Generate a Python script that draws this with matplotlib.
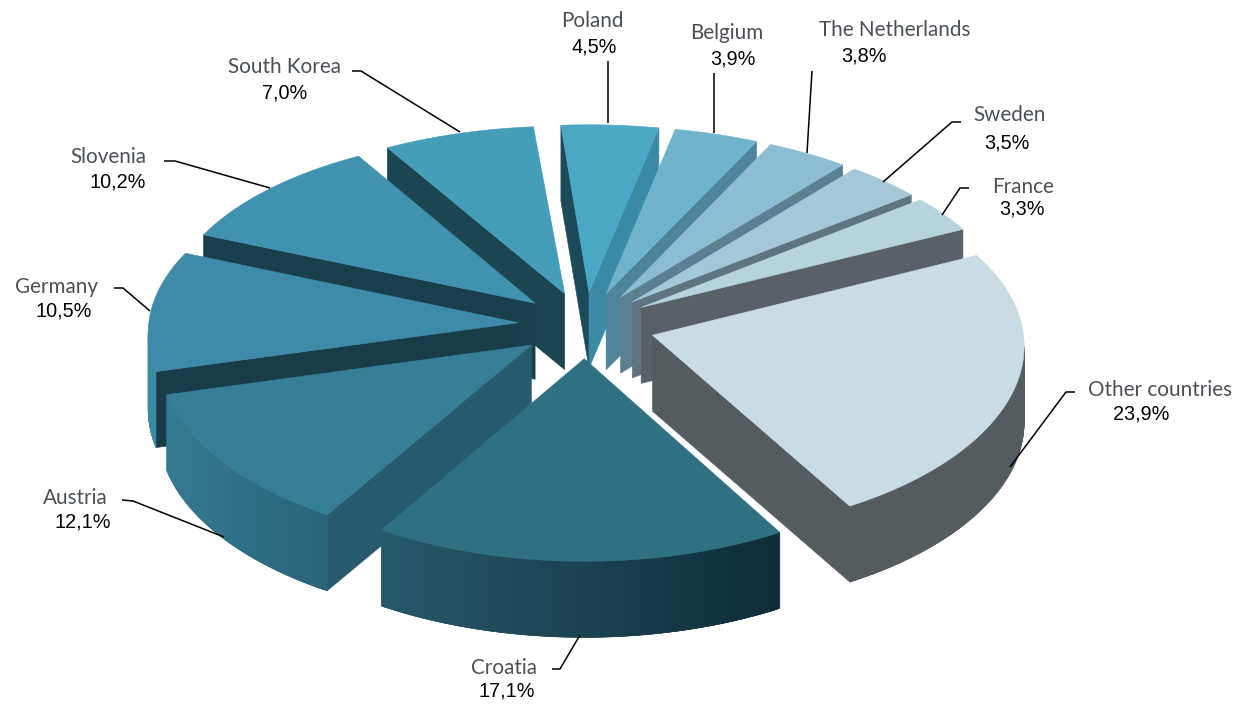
import matplotlib
matplotlib.use("Agg")
import matplotlib.pyplot as plt
from matplotlib.colors import to_rgb
from matplotlib.patches import Polygon
import numpy as np

countries = ["Poland", "Belgium", "The Netherlands", "Sweden", "France", "Other countries",
             "Croatia", "Austria", "Germany", "Slovenia", "South Korea"]
shares = [4.5, 3.9, 3.8, 3.5, 3.3, 23.9, 17.1, 12.1, 10.5, 10.2, 7.0]
explode = [0.18, 0.18, 0.18, 0.18, 0.18, 0.19, 0.18, 0.18, 0.18, 0.18, 0.18]

top_colors = ["#4aa8c5", "#6fb3cd", "#8dbdd2", "#a4c8d7", "#b6d3de", "#c9dce4",
              "#2f7083", "#367f97", "#3d8ba8", "#4093b0", "#449db9"]
start_wall_colors = ["#1c4a5a", "#4d869c", "#5a8092", "#5e7480", "#576167", "#555c5f",
                     "#27596a", "#265a6c", "#193c49", "#1a3f4c", "#1c4552"]
end_wall_colors = ["#3a8aa6", "#4d869c", "#5a8092", "#5e7480", "#576167", "#555c5f",
                   "#27596a", "#265a6c", "#193c49", "#1a3f4c", "#1c4552"]
# rim colours at the left and right end of each wall
rim_left = ["#3a8aa6", "#4d869c", "#5a8092", "#5e7480", "#576167", "#555c5f",
            "#27596a", "#357a92", "#3a8aa4", "#3d8fab", "#449db9"]
rim_right = ["#3a8aa6", "#4d869c", "#5a8092", "#5e7480", "#576167", "#555c5f",
             "#0f2c38", "#2a6378", "#3a8aa4", "#3d8fab", "#449db9"]

# label centres: name x, name y, value x, value y
label_pos = [(592, 21, 594, 47), (727, 33, 733, 59), (895, 30, 864, 56),
             (1010, 115, 1007, 143), (1023, 187, 1022, 209), (1160, 390, 1141, 414),
             (504, 668, 507, 691), (75, 498, 83, 522), (56, 287, 64, 311),
             (108, 157, 118, 182), (285, 67, 285, 93)]

leaders = [[(608, 61), (608, 123)], [(714, 73), (714, 133)], [(812, 71), (807, 153)],
           [(961, 122), (952, 122), (883, 182)], [(969, 188), (960, 188), (942, 215)],
           [(1075, 392), (1066, 392), (1010, 467)], [(552, 669), (560, 669), (580, 635)],
           [(122, 500), (133, 501), (224, 537)], [(114, 288), (123, 288), (150, 311)],
           [(164, 161), (175, 161), (270, 188)], [(352, 71), (361, 71), (460, 132)]]

start_angle = -4.6
cx, cy = 585, 325
rx, ry = 370, 185
persp_x = 0.05
persp_y = 0.07
wall = 76


def project(x, y, drop=0.0):
    return cx + rx * (1 + persp_x * y) * x, cy + ry * (1 + persp_y * y) * y + drop * wall


def shade(c1, c2, t):
    return tuple((1 - t) * a + t * b for a, b in zip(to_rgb(c1), to_rgb(c2)))


def shoelace(pts):
    p = np.array(pts)
    q = np.roll(p, -1, axis=0)
    return np.sum(p[:, 0] * q[:, 1] - q[:, 0] * p[:, 1]) / 2


def add_face(ax, pts, color):
    # faces turned away from the viewer are skipped
    if shoelace(pts) < 0:
        ax.add_patch(Polygon(pts, closed=True, facecolor=color, edgecolor=color, lw=0.4))


def draw_slice(ax, i, a0, a1):
    mid = np.radians((a0 + a1) / 2)
    ox, oy = explode[i] * np.sin(mid), -explode[i] * np.cos(mid)
    th = np.radians(np.linspace(a0, a1, max(int(a1 - a0) * 2, 12)))
    xs = ox + np.sin(th)
    ys = oy - np.cos(th)
    top = [project(x, y) for x, y in zip(xs, ys)]
    low = [project(x, y, 1) for x, y in zip(xs, ys)]
    apex = project(ox, oy)
    apex_low = project(ox, oy, 1)

    add_face(ax, [apex, top[0], low[0], apex_low], start_wall_colors[i])
    add_face(ax, [top[-1], apex, apex_low, low[-1]], end_wall_colors[i])

    x_left = min(p[0] for p in top)
    x_right = max(p[0] for p in top)
    for k in range(len(top) - 1):
        if shoelace([top[k], top[k + 1], low[k + 1], low[k]]) >= 0:
            continue
        t = ((top[k][0] + top[k + 1][0]) / 2 - x_left) / (x_right - x_left)
        color = shade(rim_left[i], rim_right[i], t)
        # each strip runs one step under the next so no seams show
        j = min(k + 2, len(top) - 1)
        strip = [top[k], top[k + 1], top[j], low[j], low[k + 1], low[k]]
        ax.add_patch(Polygon(strip, closed=True, facecolor=color, edgecolor=color, lw=0.4))

    ax.add_patch(Polygon([apex] + top, closed=True, facecolor=top_colors[i],
                         edgecolor=top_colors[i], lw=0.4))


def main():
    fig = plt.figure(figsize=(12.38, 7.04), dpi=100)
    ax = fig.add_axes([0, 0, 1, 1])
    ax.set_xlim(0, 1238)
    ax.set_ylim(704, 0)
    ax.axis("off")

    edges = start_angle + np.concatenate([[0], np.cumsum(shares)]) * 3.6
    mids = np.radians((edges[:-1] + edges[1:]) / 2)
    # back slices first so the front ones cover them
    for i in np.argsort(-np.cos(mids)):
        draw_slice(ax, i, edges[i], edges[i + 1])

    for line in leaders:
        xs, ys = zip(*line)
        ax.plot(xs, ys, color="black", lw=1.1, solid_capstyle="butt")

    for name, share, pos in zip(countries, shares, label_pos):
        ax.text(pos[0], pos[1], name, family="Lato", fontsize=14.9, color="#4b5055",
                ha="center", va="center")
        ax.text(pos[2], pos[3], "{:.1f}%".format(share).replace(".", ","),
                family="Liberation Sans", fontsize=14.3, color="black",
                ha="center", va="center")

    fig.savefig("out.png", dpi=100, facecolor="white")


if __name__ == "__main__":
    main()
